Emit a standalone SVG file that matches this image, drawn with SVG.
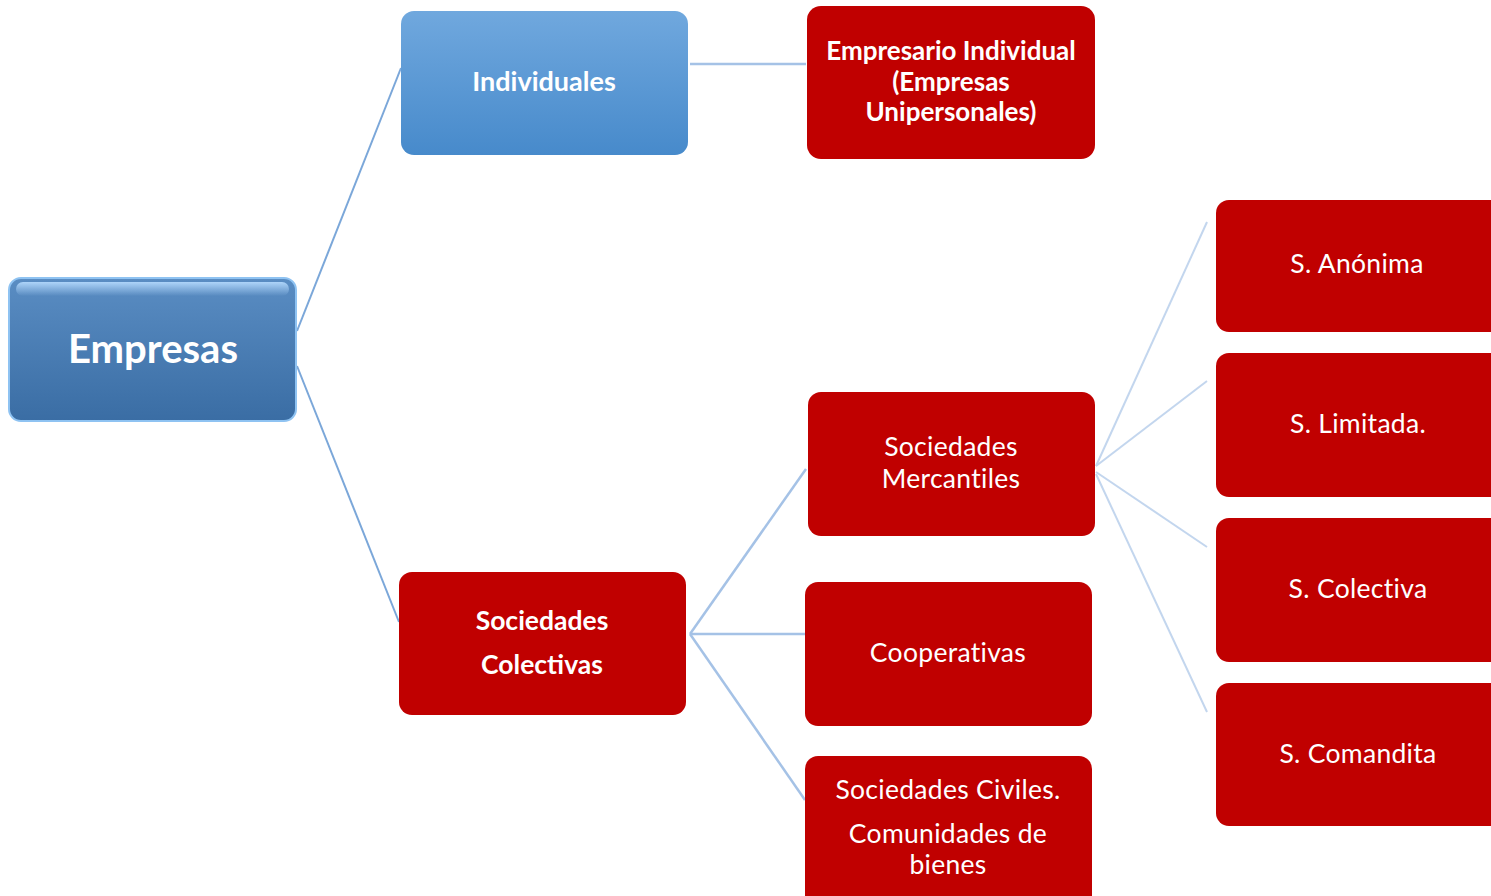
<svg xmlns="http://www.w3.org/2000/svg" width="1491" height="896" viewBox="0 0 1491 896">
<defs>
<linearGradient id="gEmp" x1="0" y1="0" x2="0" y2="1">
<stop offset="0" stop-color="#5a8dc3"/>
<stop offset="1" stop-color="#3a6da4"/>
</linearGradient>
<linearGradient id="gInd" x1="0" y1="0" x2="0" y2="1">
<stop offset="0" stop-color="#70a8de"/>
<stop offset="1" stop-color="#478acb"/>
</linearGradient>
<linearGradient id="gHi" x1="0" y1="0" x2="0" y2="1">
<stop offset="0" stop-color="#b7dcff" stop-opacity="0.9"/>
<stop offset="1" stop-color="#b7dcff" stop-opacity="0"/>
</linearGradient>
</defs>
<style>
.red{fill:#c00000}
.t{font-family:Lato,"Open Sans","Liberation Sans",sans-serif;fill:#ffffff;text-anchor:middle}
.b{font-weight:bold}
.r{font-size:26.5px;letter-spacing:0.3px}
.c1{stroke:#7ba7d9;stroke-width:2;fill:none}
.c2{stroke:#a5c2e6;stroke-width:2.5;fill:none}
.c3{stroke:#c3d6ee;stroke-width:2;fill:none}
</style>
<rect width="1491" height="896" fill="#ffffff"/>
<g id="connectors">
<line class="c1" x1="297" y1="331" x2="401" y2="68"/>
<line class="c1" x1="297" y1="366" x2="399" y2="622"/>
<line class="c2" x1="690" y1="64" x2="806" y2="64" stroke-width="3"/>
<line class="c2" x1="690" y1="634" x2="806" y2="469"/>
<line class="c2" x1="690" y1="634" x2="805" y2="634" stroke-width="3"/>
<line class="c2" x1="690" y1="634" x2="805" y2="800"/>
<line class="c3" x1="1096" y1="466" x2="1207" y2="222"/>
<line class="c3" x1="1096" y1="466" x2="1207" y2="381"/>
<line class="c3" x1="1096" y1="472" x2="1207" y2="547"/>
<line class="c3" x1="1096" y1="474" x2="1207" y2="712"/>
</g>
<g id="empresas">
<rect x="9" y="278" width="287" height="143" rx="12" fill="url(#gEmp)" stroke="#8fc3f2" stroke-width="2"/>
<rect x="16" y="282" width="273" height="14" rx="7" fill="url(#gHi)"/>
<text class="t b" x="153" y="363" font-size="40">Empresas</text>
</g>
<g id="individuales">
<rect x="401" y="11" width="287" height="144" rx="13" fill="url(#gInd)"/>
<text class="t b" x="544" y="91" font-size="27">Individuales</text>
</g>
<g id="empresario">
<rect class="red" x="807" y="6" width="288" height="153" rx="14"/>
<text class="t b" x="951" y="60" font-size="26">Empresario Individual</text>
<text class="t b" x="951" y="91" font-size="26">(Empresas</text>
<text class="t b" x="951" y="121" font-size="26">Unipersonales)</text>
</g>
<g id="colectivas">
<rect class="red" x="399" y="572" width="287" height="143" rx="13"/>
<text class="t b" x="542" y="630" font-size="26.5">Sociedades</text>
<text class="t b" x="542" y="674" font-size="26.5">Colectivas</text>
</g>
<g id="mercantiles">
<rect class="red" x="808" y="392" width="287" height="144" rx="13"/>
<text class="t r" x="951" y="456">Sociedades</text>
<text class="t r" x="951" y="488">Mercantiles</text>
</g>
<g id="cooperativas">
<rect class="red" x="805" y="582" width="287" height="144" rx="13"/>
<text class="t r" x="948" y="662">Cooperativas</text>
</g>
<g id="civiles">
<rect class="red" x="805" y="756" width="287" height="160" rx="13"/>
<text class="t r" x="948" y="799">Sociedades Civiles.</text>
<text class="t r" x="948" y="843">Comunidades de</text>
<text class="t r" x="948" y="874">bienes</text>
</g>
<g id="anonima">
<rect class="red" x="1216" y="200" width="300" height="132" rx="13"/>
<text class="t r" x="1357" y="273">S. Anónima</text>
</g>
<g id="limitada">
<rect class="red" x="1216" y="353" width="300" height="144" rx="13"/>
<text class="t r" x="1358" y="433">S. Limitada.</text>
</g>
<g id="colectiva">
<rect class="red" x="1216" y="518" width="300" height="144" rx="13"/>
<text class="t r" x="1358" y="598">S. Colectiva</text>
</g>
<g id="comandita">
<rect class="red" x="1216" y="683" width="300" height="143" rx="13"/>
<text class="t r" x="1358" y="763">S. Comandita</text>
</g>
</svg>
